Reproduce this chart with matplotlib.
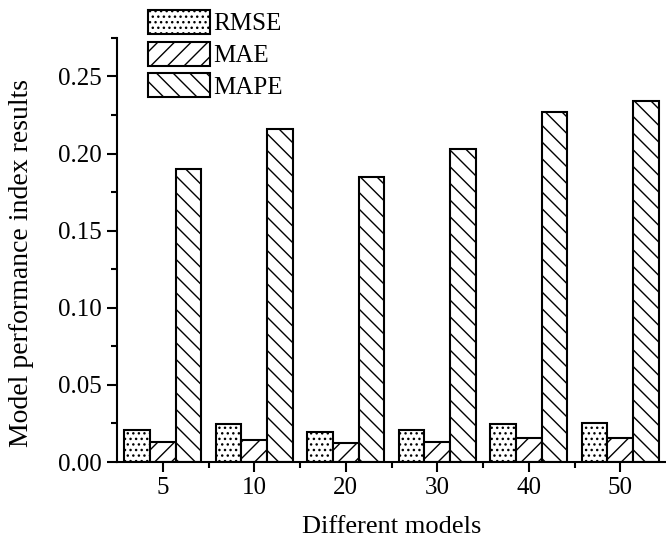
import numpy as np
import matplotlib
matplotlib.use('Agg')
import matplotlib.pyplot as plt
from matplotlib.ticker import MultipleLocator

# values
models = ['5', '10', '20', '30', '40', '50']
rmse = [0.0207, 0.0244, 0.0192, 0.0205, 0.0244, 0.0255]
mae = [0.0132, 0.0143, 0.0121, 0.0132, 0.0157, 0.0157]
mape = [0.190, 0.216, 0.185, 0.203, 0.227, 0.234]

plt.rcParams['font.family'] = ['Liberation Serif', 'DejaVu Serif']
plt.rcParams['hatch.linewidth'] = 1.0

fig = plt.figure(figsize=(6.66, 5.42), dpi=100)
ax = fig.add_axes([0.1757, 0.1476, 0.8243, 0.7824])

x = np.arange(1, len(models) + 1)
w = 0.28
ax.bar(x - w, rmse, w, facecolor='white', edgecolor='black', hatch='...', linewidth=1.5, label='RMSE')
ax.bar(x, mae, w, facecolor='white', edgecolor='black', hatch='//', linewidth=1.5, label='MAE')
ax.bar(x + w, mape, w, facecolor='white', edgecolor='black', hatch='\\\\', linewidth=1.5, label='MAPE')

ax.set_xlim(0.5, 6.5)
ax.set_ylim(0, 0.275)
ax.set_xticks(x)
ax.set_xticklabels(models)
ax.set_xticks(np.arange(1.5, 6.5, 1.0), minor=True)
ax.yaxis.set_major_locator(MultipleLocator(0.05))
ax.yaxis.set_minor_locator(MultipleLocator(0.025))
ax.yaxis.set_major_formatter(matplotlib.ticker.FormatStrFormatter('%.2f'))

ax.spines['top'].set_visible(False)
ax.spines['right'].set_visible(False)
ax.spines['left'].set_linewidth(1.5)
ax.spines['bottom'].set_linewidth(1.5)
ax.tick_params(which='major', direction='out', length=7, width=1.5, labelsize=18, pad=4)
ax.tick_params(which='minor', direction='out', length=4, width=1.5)

ax.set_xlabel('Different models', fontsize=19, labelpad=12)
ax.set_ylabel('Model performance index results', fontsize=20)
ax.yaxis.set_label_coords(-0.152, 0.47)

leg = ax.legend(loc='upper left', bbox_to_anchor=(0.038, 1.09), frameon=False, fontsize=18,
                handlelength=2.5, handleheight=1.1, handletextpad=0.1, labelspacing=0.25,
                borderaxespad=0)

fig.savefig('out.png', dpi=100)
